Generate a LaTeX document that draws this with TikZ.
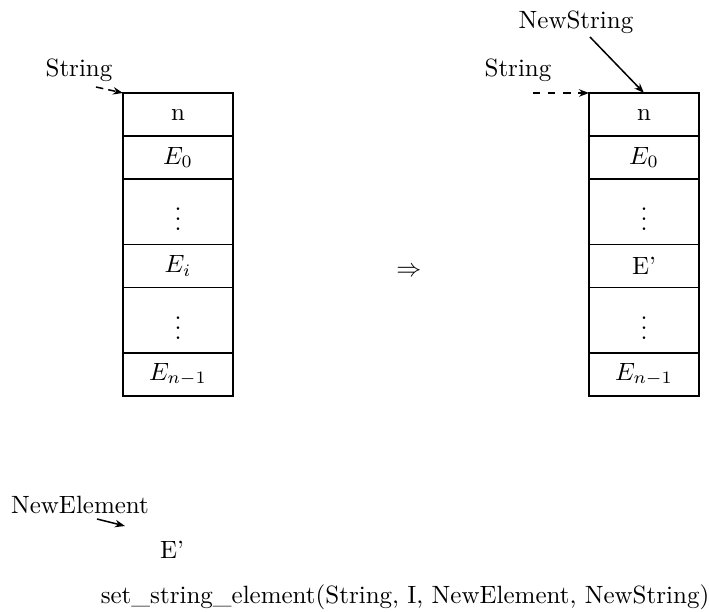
\documentclass[tikz,border=0pt]{standalone}
\usetikzlibrary{positioning,arrows.meta}
\tikzset{
  cell/.style={draw,semithick,minimum width=44pt,minimum height=17.2pt,inner sep=0pt,outer sep=0pt},
  gapcell/.style={cell,minimum height=26.2pt},
  ptr/.style={-{Stealth[length=4pt,width=3pt]},semithick},
  lbl/.style={inner sep=1pt}
}
\begin{document}
\begin{tikzpicture}[x=0.4pt,y=-0.4pt]
            \useasboundingbox (0,0) rectangle (709,612);
            \node[cell,anchor=north west] (ln) at (123,93) {n};
            \node[cell,below=0pt of ln] (le0) {$E_0$};
            \node[gapcell,below=0pt of le0] (ld1) {$\vdots$};
            \node[cell,below=0pt of ld1] (lei) {$E_i$};
            \node[gapcell,below=0pt of lei] (ld2) {$\vdots$};
            \node[cell,below=0pt of ld2] (len) {$E_{n-1}$};
            \node[cell,anchor=north west] (rn) at (589,93) {n};
            \node[cell,below=0pt of rn] (re0) {$E_0$};
            \node[gapcell,below=0pt of re0] (rd1) {$\vdots$};
            \node[cell,below=0pt of rd1] (rei) {E'};
            \node[gapcell,below=0pt of rei] (rd2) {$\vdots$};
            \node[cell,below=0pt of rd2] (ren) {$E_{n-1}$};
            \node[lbl] (lstr) at (79,70) {String};
            \node[lbl] (rstr) at (518,70) {String};
            \node[lbl] (nstr) at (576,22) {NewString};
            \coordinate (ltail) at (96,87);
            \coordinate (rtail) at (533,93);
            \coordinate (ntail) at (590,37);
            \draw[ptr,densely dashed] (ltail) -- (ln.north west);
            \draw[ptr,dashed] (rtail) -- (rn.north west);
            \draw[ptr] (ntail) -- (rn.north);
            \node (impl) at (409,272) {$\Rightarrow$};
            \node[lbl] (nel) at (80,505) {NewElement};
            \coordinate (etail) at (97,519);
            \coordinate (ehead) at (125,526);
            \draw[ptr] (etail) -- (ehead);
            \node[lbl] (eprime) at (172,550) {E'};
            \node[lbl] (call) at (405,597) {set\_string\_element(String, I, NewElement, NewString)};
        \end{tikzpicture}
\end{document}
